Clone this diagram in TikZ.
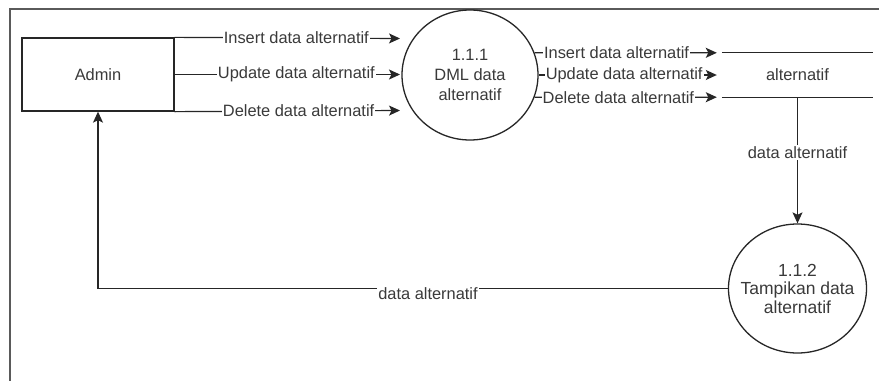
\documentclass[tikz,border=0pt]{standalone}
\usepackage{fontspec}
\setmainfont{Liberation Sans}
\usetikzlibrary{shapes.geometric,arrows.meta}

\definecolor{lineink}{HTML}{262626}
\definecolor{textink}{HTML}{3A3A3A}
\definecolor{frameink}{HTML}{5A5A5A}

\begin{document}
\begin{tikzpicture}[x=1pt,y=-1pt,
  every node/.style={text=textink, font=\fontsize{16.4}{20}\selectfont},
  flow/.style={draw=lineink, line width=1.2pt,
    -{Stealth[length=11pt,width=10pt,inset=2.5pt]}},
  lbl/.style={fill=white, inner sep=1.2pt},
  entity/.style={rectangle, draw=lineink, line width=1.3pt,
    minimum width=152pt, minimum height=73pt, inner sep=0pt},
  proc/.style={ellipse, draw=lineink, line width=1.3pt, align=center,
    inner sep=0pt},
  storebox/.style={rectangle, minimum width=151pt, minimum height=44pt,
    inner sep=0pt}
]
% canvas and page frame
\useasboundingbox (0,0) rectangle (879,381);
\fill[white] (0,0) rectangle (879,381);
\draw[frameink, line width=1.6pt] (879,9) -- (10,9) -- (10,381);

% external entity, processes and data store
\node[entity] (admin) at (98,74.5) {Admin};
\node[proc, minimum width=136pt, minimum height=130pt] (p1) at (470,75)
  {1.1.1\\DML data\\alternatif};
\node[storebox] (st) at (797.5,75) {alternatif};
\draw[lineink, line width=1.2pt] (st.north west) -- (st.north east);
\draw[lineink, line width=1.2pt] (st.south west) -- (st.south east);
\node[proc, minimum width=138pt, minimum height=129pt, inner xsep=-16pt,
  font=\fontsize{17.5}{18.5}\selectfont] (p2) at (797.5,288.5)
  {1.1.2\\Tampikan data\\alternatif};

% arrow ends in front of process 1.1.1
\coordinate (i1) at (400,38.5);
\coordinate (u1) at (400,74.5);
\coordinate (d1) at (400,110.5);

% flows from Admin into 1.1.1
\draw[flow] (admin.north east) -- node[lbl, pos=0.54] {Insert data alternatif} (i1);
\draw[flow] (admin.east) -- node[lbl, pos=0.54] {Update data alternatif} (u1);
\draw[flow] (admin.south east) -- node[lbl, pos=0.55] {Delete data alternatif} (d1);

% flows from 1.1.1 into the data store
\draw[flow] (p1.19) -- node[lbl, pos=0.45] {Insert data alternatif}
  ([xshift=-5pt]st.north west);
\draw[flow] (p1.east) -- node[lbl, pos=0.48] {Update data alternatif}
  ([xshift=-5pt]st.west);
\draw[flow] (p1.-19) -- node[lbl, pos=0.46] {Delete data alternatif}
  ([xshift=-5pt]st.south west);

% store to 1.1.2, and 1.1.2 back to Admin
\draw[flow] (st.south) -- node[lbl, pos=0.44] {data alternatif} (p2.north);
\draw[flow] (p2.west) -| node[lbl, pos=0.238, yshift=-5pt] {data alternatif}
  (admin.south);
\end{tikzpicture}
\end{document}
